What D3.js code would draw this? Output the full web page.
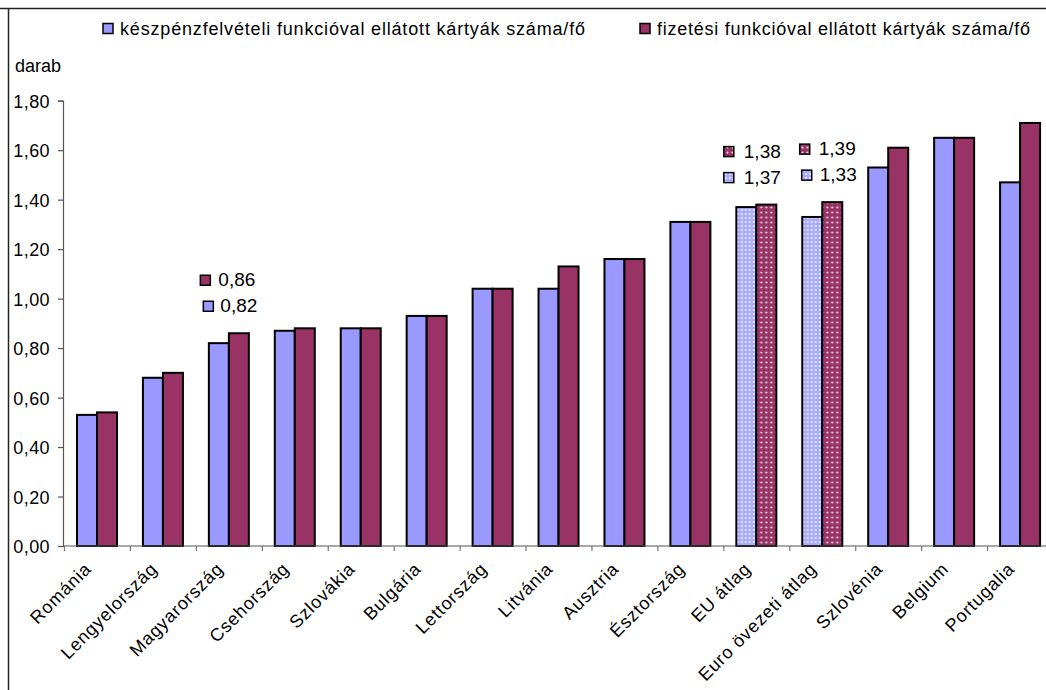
<!DOCTYPE html>
<html>
<head>
<meta charset="utf-8">
<script src="https://cdn.jsdelivr.net/npm/d3@7"></script>
<style>
  html, body { margin: 0; padding: 0; background: #fff; }
  svg { display: block; font-family: "Liberation Sans", Arial, sans-serif; }
</style>
</head>
<body>
<svg id="chart" width="1046" height="690"></svg>
<script>
// ---- data ----
const categories = ["Románia", "Lengyelország", "Magyarország", "Csehország", "Szlovákia", "Bulgária", "Lettország", "Litvánia", "Ausztria", "Észtország", "EU átlag", "Euro övezeti átlag", "Szlovénia", "Belgium", "Portugalia"];
const seriesNames = ["készpénzfelvételi funkcióval ellátott kártyák száma/fő", "fizetési funkcióval ellátott kártyák száma/fő"];
const cashValues = [0.53, 0.68, 0.82, 0.87, 0.88, 0.93, 1.04, 1.04, 1.16, 1.31, 1.37, 1.33, 1.53, 1.65, 1.47];
const payValues  = [0.54, 0.70, 0.86, 0.88, 0.88, 0.93, 1.04, 1.13, 1.16, 1.31, 1.38, 1.39, 1.61, 1.65, 1.71];
const yTicks = [0, 0.2, 0.4, 0.6, 0.8, 1.0, 1.2, 1.4, 1.6, 1.8];
const yUnit = "darab";
const patternedCats = ["EU átlag", "Euro övezeti átlag"];
const labeledCats = ["Magyarország", "EU átlag", "Euro övezeti átlag"];

// ---- layout (styles/positions, not data) ----
const colors = ["#9999FF", "#993366"];
const labelLayout = {
  "Magyarország":      { sq: [-26, -29], tx: [-9, -11] },
  "EU átlag":          { sq: [-33, -33], tx: [-13, -13] },
  "Euro övezeti átlag":{ sq: [-21, -23], tx: [-3, -4] }
};

const svg = d3.select("#chart");
const defs = svg.append("defs");

// dotted patterns
function dotPattern(id, bg, dot, size, r) {
  const p = defs.append("pattern").attr("id", id).attr("patternUnits", "userSpaceOnUse")
    .attr("width", size).attr("height", size);
  p.append("rect").attr("width", size).attr("height", size).attr("fill", bg);
  p.append("circle").attr("cx", size / 2).attr("cy", size / 2).attr("r", r).attr("fill", dot);
}
dotPattern("patBlue", "#ACACFF", "#F0F0FF", 4, 1);
dotPattern("patRed", "#993366", "#F0D8E4", 5, 1.1);

// frame
svg.append("line").attr("x1", 0).attr("x2", 1046).attr("y1", 8.5).attr("y2", 8.5).attr("stroke", "#222").attr("stroke-width", 1.5);
svg.append("line").attr("x1", 8.5).attr("x2", 8.5).attr("y1", 8).attr("y2", 690).attr("stroke", "#222").attr("stroke-width", 1.5);

const plotLeft = 63, bandLeft = 64.5, plotRight = 1053.5, plotTop = 100.7, plotBottom = 546;
const x0 = d3.scaleBand().domain(categories).range([bandLeft, plotRight]).padding(0);
const x1 = d3.scaleBand().domain([0, 1]).range([12.5, 52.5]);
const y = d3.scaleLinear().domain([0, 1.8]).range([plotBottom, plotTop]);
const fmt = v => d3.format(".2f")(v).replace(".", ",");

// y axis
const yAxis = d3.axisLeft(y).tickValues(yTicks).tickSize(5).tickFormat(fmt);
const gy = svg.append("g").attr("transform", `translate(${plotLeft},0)`).call(yAxis);
gy.select(".domain").attr("stroke", "#555").attr("stroke-width", 1.2);
gy.selectAll(".tick line").attr("stroke", "#555").attr("stroke-width", 1.2);
gy.selectAll(".tick text").attr("font-size", 18).attr("letter-spacing", 0.4).attr("fill", "#000").attr("x", -13).attr("dy", "0.36em")
  .attr("font-family", "Liberation Sans, Arial, sans-serif");

// y unit
svg.append("text").attr("x", 15).attr("y", 72).attr("font-size", 18).text(yUnit);

// bars
const rows = categories.map((c, i) => ({ c, vals: [cashValues[i], payValues[i]] }));
const groups = svg.append("g").selectAll("g").data(rows).join("g")
  .attr("transform", d => `translate(${x0(d.c)},0)`);
groups.selectAll("rect").data(d => d.vals.map((v, k) => ({ v, k, c: d.c }))).join("rect")
  .attr("x", d => x1(d.k))
  .attr("width", x1.bandwidth())
  .attr("y", d => y(d.v))
  .attr("height", d => y(0) - y(d.v))
  .attr("fill", d => patternedCats.includes(d.c) ? (d.k === 0 ? "url(#patBlue)" : "url(#patRed)") : colors[d.k])
  .attr("stroke", "#000").attr("stroke-width", 2);

// x axis
const xAxis = d3.axisBottom(x0).tickSize(0).tickFormat("");
const gx = svg.append("g").attr("transform", `translate(0,${plotBottom})`).call(xAxis);
gx.select(".domain").attr("stroke", "#555").attr("stroke-width", 1.2).attr("d", `M${plotLeft},0H${plotRight}`);
gx.selectAll(".tick").remove();
// boundary ticks
const boundaries = categories.map(c => x0(c)).concat([plotRight]);
svg.append("g").selectAll("line").data(boundaries).join("line")
  .attr("x1", d => d).attr("x2", d => d).attr("y1", plotBottom).attr("y2", plotBottom + 5)
  .attr("stroke", "#777").attr("stroke-width", 1.2);

// x labels rotated
svg.append("g").selectAll("text").data(categories).join("text")
  .attr("transform", c => `translate(${x0(c) + x0.bandwidth() / 2 - 5},${570}) rotate(-45)`)
  .attr("text-anchor", "end")
  .attr("font-size", 18)
  .attr("letter-spacing", 0.8)
  .text(c => c);

// legend
const legendItems = [
  { name: seriesNames[0], sqX: 103, txX: 120, txW: 465, fill: colors[0] },
  { name: seriesNames[1], sqX: 640, txX: 657, txW: 373, fill: colors[1] }
];
const lg = svg.append("g").selectAll("g").data(legendItems).join("g");
lg.append("rect").attr("x", d => d.sqX).attr("y", 23.5).attr("width", 10).attr("height", 10)
  .attr("fill", d => d.fill).attr("stroke", "#000").attr("stroke-width", 1.5);
lg.append("text").attr("x", d => d.txX).attr("y", 35).attr("font-size", 18)
  .attr("textLength", d => d.txW).attr("lengthAdjust", "spacing").text(d => d.name);

// data labels
labeledCats.forEach(c => {
  const i = categories.indexOf(c);
  const cx = x0(c) + x0.bandwidth() / 2;
  const top = y(Math.max(cashValues[i], payValues[i]));
  const L = labelLayout[c];
  const pat = patternedCats.includes(c);
  const entries = [
    { v: payValues[i], k: 1, base: top - 47 },
    { v: cashValues[i], k: 0, base: top - 21 }
  ];
  entries.forEach(e => {
    const sqOff = L.sq[e.k], txOff = L.tx[e.k];
    svg.append("rect").attr("x", cx + sqOff).attr("y", e.base - 11).attr("width", 10).attr("height", 10)
      .attr("fill", pat ? (e.k === 0 ? "url(#patBlue)" : "url(#patRed)") : colors[e.k])
      .attr("stroke", "#000").attr("stroke-width", 1.5);
    svg.append("text").attr("x", cx + txOff).attr("y", e.base).attr("font-size", 19).text(fmt(e.v));
  });
});
</script>
</body>
</html>
